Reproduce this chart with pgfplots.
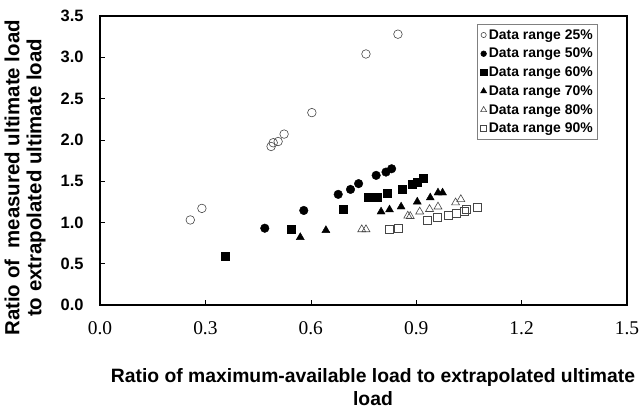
\documentclass[border=0pt]{standalone}
\usepackage{fontspec}
\setmainfont{Liberation Sans}
\newfontfamily\tickfont{Liberation Serif}
\usepackage{pgfplots}
\pgfplotsset{compat=1.18}
\definecolor{edgegray}{RGB}{70,70,70}
\begin{document}
\begin{tikzpicture}[x=1bp,y=1bp]
\useasboundingbox (-100,-107) rectangle (539,305);
\begin{axis}[
  at={(0,0)}, anchor=south west,
  scale only axis, width=527bp, height=289bp,
  xmin=0, xmax=1.5, ymin=0, ymax=3.5,
  xtick={0,0.3,0.6,0.9,1.2,1.5},
  ytick={0,0.5,1,1.5,2,2.5,3,3.5},
  xtick pos=bottom, ytick pos=left,
  tick align=inside, major tick length=5bp,
  tick style={black, line width=0.6pt},
  axis line style={black, line width=1.2pt},
  /pgf/number format/assume math mode=true,
  /pgf/number format/.cd, fixed, fixed zerofill, precision=1, /pgfplots/.cd,
  xticklabel style={font=\tickfont\fontsize{19.5}{21}\selectfont, yshift=-13bp},
  yticklabel style={font=\bfseries\fontsize{16.5}{18}\selectfont, xshift=-13bp},
  xlabel={Ratio of maximum-available load to extrapolated ultimate\\load},
  ylabel={Ratio of\ \ measured ultimate load\\to extrapolated ultimate load},
  every axis x label/.style={at={(axis description cs:0.518,-0.285)}, anchor=center, align=center, font=\bfseries\fontsize{19.4}{23}\selectfont},
  every axis y label/.style={at={(axis description cs:-0.142,0.44)}, rotate=90, anchor=center, align=center, font=\bfseries\fontsize{20.5}{22}\selectfont},
  legend style={at={(axis description cs:0.945,0.972)}, anchor=north east, draw=gray, line width=0.6pt, font=\bfseries\fontsize{14}{15}\selectfont, row sep=3.5bp, inner xsep=3bp, inner ysep=3bp, cells={anchor=west}},
  legend image code/.code={\draw[#1] plot coordinates {(0.1cm,0cm)};},
]
\addplot[only marks, mark=o, mark size=4.3bp, draw=edgegray, line width=0.6pt, legend image post style={mark size=2.6bp}]
 coordinates {(0.257,1.03)(0.290,1.17)(0.487,1.92)(0.493,1.965)(0.507,1.98)(0.524,2.07)(0.603,2.33)(0.757,3.04)(0.848,3.28)};
\addlegendentry{Data range 25\%}
\addplot[only marks, mark=*, mark size=4.3bp, black, legend image post style={mark size=2.8bp}]
 coordinates {(0.469,0.93)(0.580,1.145)(0.678,1.34)(0.713,1.40)(0.736,1.47)(0.786,1.57)(0.814,1.61)(0.830,1.65)};
\addlegendentry{Data range 50\%}
\addplot[only marks, mark=square*, mark size=4bp, black, legend image post style={mark size=3.2bp}]
 coordinates {(0.356,0.595)(0.544,0.915)(0.693,1.16)(0.763,1.30)(0.789,1.30)(0.817,1.36)(0.859,1.40)(0.890,1.46)(0.903,1.49)(0.919,1.53)};
\addlegendentry{Data range 60\%}
\addplot[only marks, mark=triangle*, mark size=4.6bp, black, legend image post style={mark size=3.4bp}]
 coordinates {(0.570,0.82)(0.643,0.905)(0.800,1.13)(0.824,1.155)(0.857,1.19)(0.903,1.25)(0.940,1.30)(0.962,1.36)(0.975,1.36)};
\addlegendentry{Data range 70\%}
\addplot[only marks, mark=triangle, mark size=4.6bp, draw=edgegray, line width=0.6pt, legend image post style={mark size=3.4bp}]
 coordinates {(0.745,0.915)(0.757,0.915)(0.876,1.08)(0.883,1.075)(0.910,1.13)(0.938,1.16)(0.962,1.19)(1.012,1.24)(1.027,1.28)};
\addlegendentry{Data range 80\%}
\addplot[only marks, mark=square, mark size=4bp, draw=edgegray, line width=0.6pt, legend image post style={mark size=3bp}]
 coordinates {(0.824,0.915)(0.850,0.93)(0.931,1.03)(0.959,1.06)(0.992,1.09)(1.014,1.11)(1.038,1.14)(1.042,1.165)(1.074,1.18)};
\addlegendentry{Data range 90\%}
\end{axis}
\end{tikzpicture}
\end{document}
